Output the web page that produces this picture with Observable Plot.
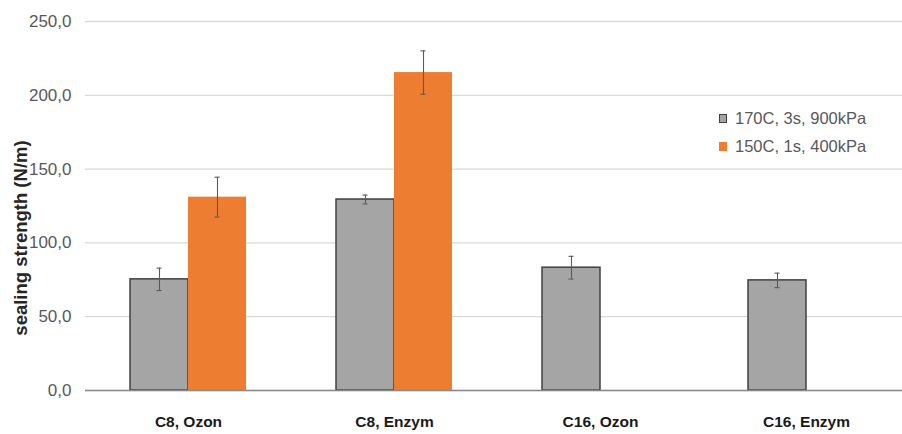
<!DOCTYPE html>
<html>
<head>
<meta charset="utf-8">
<script src="https://cdn.jsdelivr.net/npm/d3@7"></script>
<script src="https://cdn.jsdelivr.net/npm/@observablehq/plot@0.6"></script>
<style>
  html, body { margin: 0; padding: 0; background: #fff; }
  #wrap { position: relative; width: 902px; height: 434px; font-family: Arial, "Liberation Sans", sans-serif; }
  #wrap svg { display: block; }
  #ylabel { position: absolute; left: 21px; top: 238px; transform: translate(-50%, -50%) rotate(-90deg);
            white-space: nowrap; font-size: 18.5px; font-weight: bold; color: #262626; }
  #legend { position: absolute; left: 719px; top: 104px; font-size: 16.5px; color: #595959; line-height: 28px; }
  #legend .item { display: flex; align-items: center; white-space: nowrap; }
  #legend .sw { width: 8px; height: 9px; margin-right: 8px; box-sizing: border-box; }
</style>
</head>
<body>
<div id="wrap">
  <div id="chart"></div>
  <div id="ylabel"></div>
  <div id="legend"></div>
</div>
<script>
const categories = ["C8, Ozon", "C8, Enzym", "C16, Ozon", "C16, Enzym"];
const series = ["170C, 3s, 900kPa", "150C, 1s, 400kPa"];
const values170 = [75.3, 129.4, 83.2, 74.6];
const errors170 = [7.6, 3.0, 7.7, 4.9];
const values150 = [131.0, 215.4, null, null];
const errors150 = [13.5, 14.7, null, null];
const yTicks = [0, 50, 100, 150, 200, 250];
const yTitle = "sealing strength (N/m)";
const colors = ["#a5a5a5", "#ed7d31"];
const strokes = ["#404040", "none"];

const rows = [];
categories.forEach((c, i) => {
  if (values170[i] != null) rows.push({cat: c, s: series[0], v: values170[i], e: errors170[i]});
  if (values150[i] != null) rows.push({cat: c, s: series[1], v: values150[i], e: errors150[i]});
});

const fmt = d => d.toFixed(1).replace(".", ",");

const chart = Plot.plot({
  width: 902,
  height: 434,
  marginTop: 21,
  marginBottom: 44,
  marginLeft: 84,
  marginRight: 0,
  style: {fontFamily: "Arial, 'Liberation Sans', sans-serif", background: "#fff", overflow: "hidden"},
  fx: {domain: categories, range: [84, 910], paddingInner: 0, paddingOuter: 0, label: null},
  x: {domain: series, paddingInner: 0, paddingOuter: 0.75, axis: null},
  y: {domain: [0, 250], label: null},
  color: {domain: series, range: colors},
  marks: [
    Plot.gridY(yTicks, {stroke: "#d9d9d9", strokeOpacity: 1, strokeWidth: 1.3}),
    Plot.barY(rows, {
      fx: "cat", x: "s", y: "v",
      fill: "s",
      stroke: d => strokes[series.indexOf(d.s)],
      strokeWidth: 1.5
    }),
    Plot.ruleY([0], {stroke: "#8a8a8a", strokeWidth: 1.6}),
    Plot.ruleX(rows, {fx: "cat", x: "s", y1: d => d.v - d.e, y2: d => d.v + d.e, stroke: "#5a5a5a", strokeWidth: 1.1}),
    Plot.tickY(rows, {fx: "cat", x: "s", y: d => d.v + d.e, stroke: "#5a5a5a", strokeWidth: 1.1, insetLeft: 26.5, insetRight: 26.5}),
    Plot.tickY(rows, {fx: "cat", x: "s", y: d => d.v - d.e, stroke: "#5a5a5a", strokeWidth: 1.1, insetLeft: 26.5, insetRight: 26.5}),
    Plot.axisY(yTicks, {
      tickSize: 0, tickPadding: 14, tickFormat: fmt,
      fontSize: 17, fill: "#595959", label: null
    }),
    Plot.axisFx({
      anchor: "bottom", tickSize: 0, tickPadding: 25,
      fontSize: 15.5, fontWeight: "bold", fill: "#1a1a1a", label: null
    })
  ]
});
document.getElementById("chart").appendChild(chart);
document.getElementById("ylabel").textContent = yTitle;

const legend = document.getElementById("legend");
series.forEach((s, i) => {
  const item = document.createElement("div");
  item.className = "item";
  const sw = document.createElement("span");
  sw.className = "sw";
  sw.style.background = colors[i];
  if (strokes[i] !== "none") sw.style.border = "1.5px solid " + strokes[i];
  item.appendChild(sw);
  item.appendChild(document.createTextNode(s));
  legend.appendChild(item);
});
</script>
</body>
</html>
